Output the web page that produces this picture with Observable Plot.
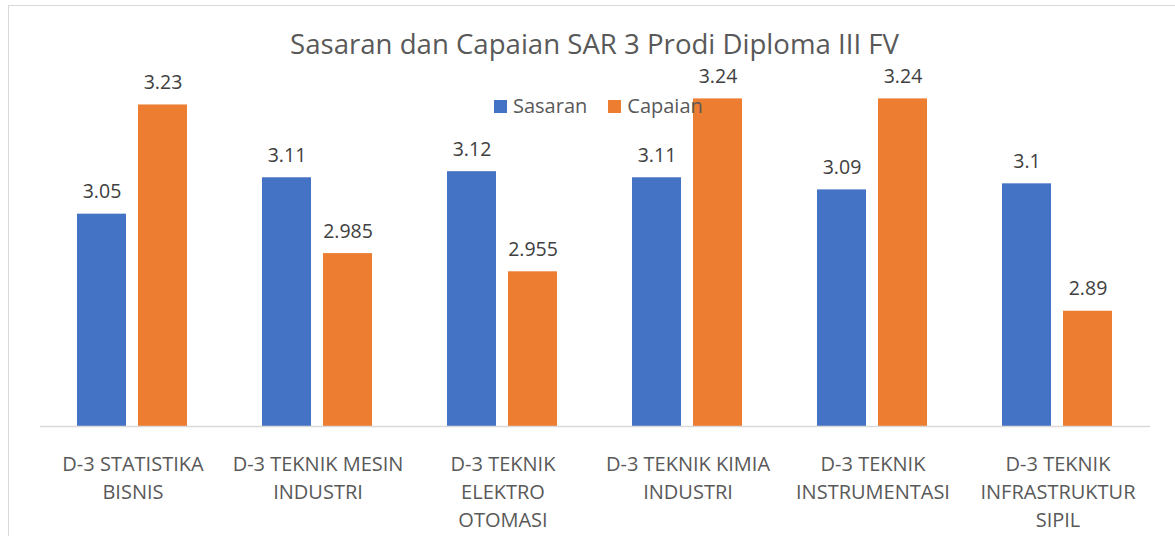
<!DOCTYPE html>
<html>
<head>
<meta charset="utf-8">
<script src="https://cdn.jsdelivr.net/npm/d3@7"></script>
<script src="https://cdn.jsdelivr.net/npm/@observablehq/plot@0.6"></script>
<style>
  html, body { margin: 0; padding: 0; background: #fff; }
  #wrap { position: relative; width: 1175px; height: 536px; overflow: hidden; font-family: "Open Sans", sans-serif; }
  #frame { position: absolute; left: 8px; top: 5px; width: 1400px; height: 800px; border: 1.5px solid #d9d9d9; box-sizing: border-box; }
  #chart { position: absolute; left: 0; top: 0; }
  #title { position: absolute; left: 0; width: 1189px; top: 30px; text-align: center; font-size: 27.6px; line-height: 26px; color: #595959; white-space: nowrap; }
  #legend { position: absolute; left: 494px; top: 94px; display: flex; align-items: center; font-size: 20px; color: #595959; line-height: 24px; }
  #legend .sw { width: 13px; height: 13px; display: inline-block; margin-right: 6px; }
  #legend .item { display: flex; align-items: center; margin-right: 21px; }
</style>
</head>
<body>
<div id="wrap">
  <div id="frame"></div>
  <div id="chart"></div>
  <div id="title"></div>
  <div id="legend"></div>
</div>
<script>
const titleText = "Sasaran dan Capaian SAR 3 Prodi Diploma III FV";
const categories = [
  "D-3 STATISTIKA BISNIS",
  "D-3 TEKNIK MESIN INDUSTRI",
  "D-3 TEKNIK ELEKTRO OTOMASI",
  "D-3 TEKNIK KIMIA INDUSTRI",
  "D-3 TEKNIK INSTRUMENTASI",
  "D-3 TEKNIK INFRASTRUKTUR SIPIL"
];
const tickLabels = [
  "D-3 STATISTIKA\nBISNIS",
  "D-3 TEKNIK MESIN\nINDUSTRI",
  "D-3 TEKNIK\nELEKTRO\nOTOMASI",
  "D-3 TEKNIK KIMIA\nINDUSTRI",
  "D-3 TEKNIK\nINSTRUMENTASI",
  "D-3 TEKNIK\nINFRASTRUKTUR\nSIPIL"
];
const seriesNames = ["Sasaran", "Capaian"];
const sasaran = [3.05, 3.11, 3.12, 3.11, 3.09, 3.1];
const capaian = [3.23, 2.985, 2.955, 3.24, 3.24, 2.89];
const seriesColors = ["#4472C4", "#ED7D31"];
const yDomain = [2.7, 3.3];

const data = [];
categories.forEach((c, i) => {
  data.push({category: c, series: seriesNames[0], value: sasaran[i]});
  data.push({category: c, series: seriesNames[1], value: capaian[i]});
});

document.getElementById("title").textContent = titleText;
const legend = document.getElementById("legend");
seriesNames.forEach((s, i) => {
  const item = document.createElement("span");
  item.className = "item";
  const sw = document.createElement("span");
  sw.className = "sw";
  sw.style.background = seriesColors[i];
  const t = document.createElement("span");
  t.textContent = s;
  item.appendChild(sw); item.appendChild(t);
  legend.appendChild(item);
});

const chart = Plot.plot({
  width: 1175,
  height: 536,
  marginLeft: 37,
  marginRight: 23,
  marginTop: 62,
  marginBottom: 110,
  style: {fontFamily: "Open Sans", fontSize: "20px", background: "transparent", overflow: "visible"},
  fx: {domain: categories, padding: 0, label: null},
  x: {domain: seriesNames, paddingInner: 0.195, paddingOuter: 0.608, axis: null},
  y: {domain: yDomain, axis: null},
  color: {domain: seriesNames, range: seriesColors},
  marks: [
    Plot.barY(data, {fx: "category", x: "series", y1: yDomain[0], y2: "value", fill: "series"}),
    Plot.ruleY([yDomain[0]], {stroke: "#d9d9d9", strokeWidth: 1.5}),
    Plot.text(data, {fx: "category", x: "series", y: "value", text: d => String(d.value), lineAnchor: "bottom", dy: -16, fill: "#404040", fontSize: 19.5}),
    Plot.axisFx({anchor: "bottom", tickSize: 0, tickPadding: 24, fontSize: 20, lineHeight: 1.42, fill: "#595959", label: null,
      tickFormat: c => tickLabels[categories.indexOf(c)]})
  ]
});
document.getElementById("chart").appendChild(chart);
</script>
</body>
</html>
